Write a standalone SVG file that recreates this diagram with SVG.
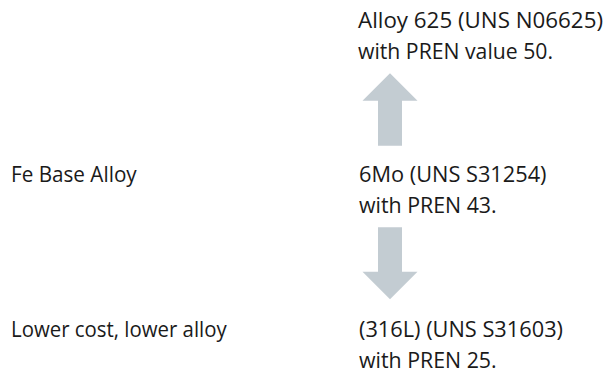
<svg xmlns="http://www.w3.org/2000/svg" width="609" height="373" viewBox="0 0 609 373">
<style>
text{font-family:"Open Sans","Noto Sans","Liberation Sans",sans-serif;font-size:21px;fill:#1a1a1a}
.arr{fill:#c3ccd2}
</style>
<rect width="609" height="373" fill="#fff"/>
<g id="alloy625"><text x="358" y="28.3" textLength="245" lengthAdjust="spacingAndGlyphs">Alloy 625 (UNS N06625)</text><text x="358" y="59.3" textLength="195" lengthAdjust="spacingAndGlyphs">with PREN value 50.</text></g>
<g id="fe-base"><text x="11" y="181.7" textLength="125.7" lengthAdjust="spacingAndGlyphs">Fe Base Alloy</text></g>
<g id="6mo"><text x="359" y="182.3" textLength="187.5" lengthAdjust="spacingAndGlyphs">6Mo (UNS S31254)</text><text x="359" y="213.3" textLength="137.7" lengthAdjust="spacingAndGlyphs">with PREN 43.</text></g>
<g id="lower-cost"><text x="11" y="336.7" textLength="215.7" lengthAdjust="spacingAndGlyphs">Lower cost, lower alloy</text></g>
<g id="316l"><text x="359" y="336.7" textLength="204" lengthAdjust="spacingAndGlyphs">(316L) (UNS S31603)</text><text x="359" y="367.7" textLength="137.7" lengthAdjust="spacingAndGlyphs">with PREN 25.</text></g>
<g id="connectors">
<polygon class="arr" points="390,73.3 417.5,100.7 402,100.7 402,145.7 378,145.7 378,100.7 362.5,100.7"/>
<polygon class="arr" points="378,227.3 402,227.3 402,271.7 417.5,271.7 390,299.3 362.5,271.7 378,271.7"/>
</g>
</svg>
